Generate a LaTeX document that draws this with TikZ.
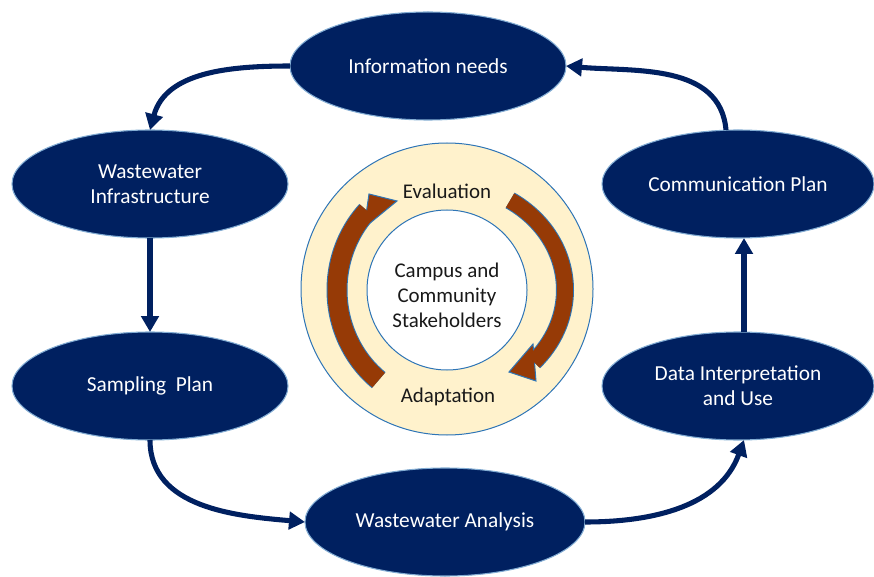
\documentclass[tikz,border=0pt]{standalone}
\usepackage{fontspec}
\setmainfont{Carlito}
\usetikzlibrary{shapes.geometric,arrows.meta}
\definecolor{navy}{HTML}{002060}
\definecolor{edgeblue}{HTML}{2E75B6}
\definecolor{cream}{HTML}{FFF2CC}
\definecolor{rust}{HTML}{963A06}
\begin{document}
\begin{tikzpicture}[x=0.75pt,y=0.75pt,
  stage/.style={ellipse, fill=navy, draw=edgeblue!60!white, line width=0.8pt, text=white,
    minimum width=207pt, minimum height=81pt, inner sep=0pt, outer sep=0pt, align=center,
    font=\fontsize{16}{19}\selectfont},
  flow/.style={draw=navy, line width=3.8pt, -{Triangle[length=12pt,width=13pt]}},
  ctext/.style={font=\fontsize{15.7}{18.75}\selectfont, text=black!90, align=center, inner sep=0pt},
  ring/.style={circle, draw=edgeblue, line width=0.75pt, inner sep=0pt}
]
\useasboundingbox (0,0) rectangle (874,-577);

% central rings
\node[ring, fill=cream, minimum size=219pt] (outer) at (447,-289) {};
\node[ring, fill=white, minimum size=120pt] (inner) at (447,-290) {};

% brown cycle arrows
% left arrow (going up)
\draw[edgeblue, line width=15.75pt] (447,-290) ++(231.6:110 and 115)
  arc[x radius=110, y radius=115, start angle=231.6, end angle=136.5];
\filldraw[fill=rust, draw=edgeblue, line width=0.75pt] (369,-194) -- (397,-201) -- (364,-228) -- cycle;
\draw[rust, line width=14.25pt] (447,-290) ++(231.6:110 and 115)
  arc[x radius=110, y radius=115, start angle=231.6, end angle=136.5];
% right arrow (going down)
\draw[edgeblue, line width=13.5pt] (447,-290) ++(57.7:118 and 106)
  arc[x radius=118, y radius=106, start angle=57.7, end angle=-42.7];
\filldraw[fill=rust, draw=edgeblue, line width=0.75pt] (536,-381) -- (509,-372) -- (533,-344) -- cycle;
\draw[rust, line width=12pt] (447,-290) ++(57.7:118 and 106)
  arc[x radius=118, y radius=106, start angle=57.7, end angle=-42.7];

\node[ctext] (stake) at (447,-295) {Campus and\\Community\\Stakeholders};
\node[ctext, anchor=base] (eval) at (447,-199) {Evaluation};
\node[ctext, anchor=base] (adapt) at (448,-402) {Adaptation};

% stages
\node[stage] (IN) at (428,-66) {Information needs};
\node[stage] (WI) at (150,-184) {Wastewater\\Infrastructure};
\node[stage] (SP) at (150,-386) {Sampling\ \ Plan};
\node[stage, minimum width=210pt] (WA) at (445,-522) {Wastewater Analysis};
\node[stage, minimum width=204pt] (DI) at (738,-386) {Data Interpretation\\and Use};
\node[stage, minimum width=204pt] (CP) at (738,-184) {Communication Plan};

% connectors
\draw[flow] (IN.west) to[out=180,in=75] (WI.north);
\draw[flow] (WI.south) -- (SP.north);
\draw[flow] (SP.south) to[out=-90,in=175] (WA.west);
\draw[flow] (WA.east) to[out=0,in=-110] ([xshift=4.5pt]DI.south);
\draw[flow] ([xshift=4.5pt]DI.north) -- ([xshift=4.5pt]CP.south);
\draw[flow] ([xshift=-9pt]CP.north) to[out=95,in=-5] (IN.east);
\end{tikzpicture}
\end{document}
